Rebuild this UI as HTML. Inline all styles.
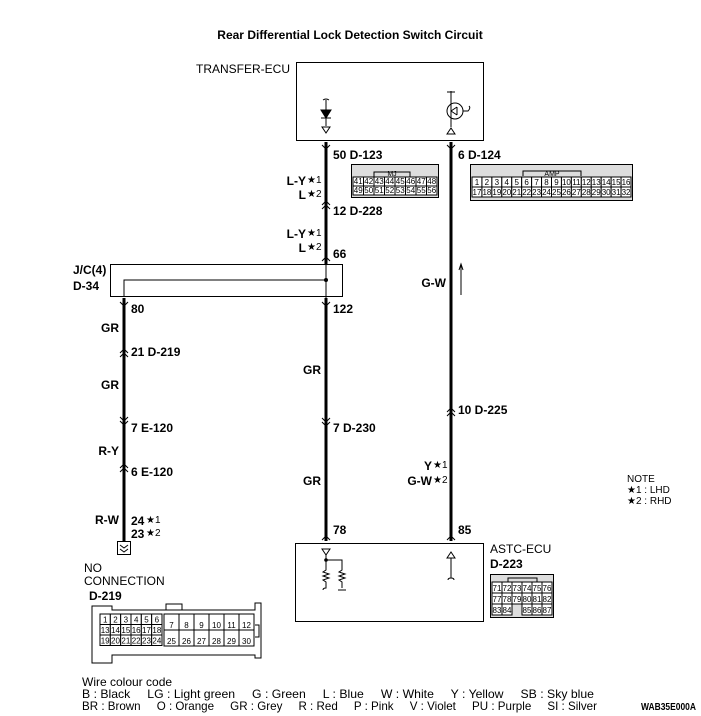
<!DOCTYPE html>
<html><head><meta charset="utf-8"><style>
html,body{margin:0;padding:0;background:#fff;}
svg{display:block;font-family:"Liberation Sans",sans-serif;}
.l{font-size:12px;font-weight:bold;}
.s{font-size:10px;font-weight:normal;}
</style></head><body>
<svg id="s" width="701" height="716" viewBox="0 0 701 716" xmlns="http://www.w3.org/2000/svg">
<text x="350" y="39" text-anchor="middle" font-size="12" font-weight="bold">Rear Differential Lock Detection Switch Circuit</text>
<!-- TRANSFER ECU -->
<text x="290" y="73" text-anchor="end" font-size="12">TRANSFER-ECU</text>
<rect x="296.5" y="62.5" width="187" height="78" fill="none" stroke="#000"/>
<path d="M323 100 q3 -2 6 0 M326 100 v10 M326 118 v8" stroke="#000" fill="none"/>
<path d="M321 110 h10 l-5 8z M321 118 h10" stroke="#000" fill="#000"/>
<path d="M322 127 h8 l-4 6z" stroke="#000" fill="none"/>
<circle cx="455" cy="111" r="8" fill="none" stroke="#000"/>
<path d="M451 91 v36 M451 111 l6 -4 M451 111 l6 4 M457 107 v8 M463 111 h5 q3 -3 1 -5" stroke="#000" fill="none"/>
<path d="M447 92 h8 M447 134 l4 -6 l4 6z" stroke="#000" fill="none"/>
<!-- wires -->
<g stroke="#000" stroke-width="3">
<line x1="326" y1="142" x2="326" y2="264"/>
<line x1="326" y1="298" x2="326" y2="541"/>
<line x1="451" y1="142" x2="451" y2="541"/>
<line x1="124" y1="298" x2="124" y2="541"/>
</g>
<g stroke="#000" fill="none" stroke-width="1">
<path d="M322 145 l4 4 l4 -4 M447 145 l4 4 l4 -4"/>
<path d="M322 205 l4 -4 l4 4 M322 209 l4 -4 l4 4"/>
<path d="M322 261 l4 -4 l4 4"/>
<path d="M322 302 l4 4 l4 -4 M120 302 l4 4 l4 -4"/>
<path d="M120 353 l4 -4 l4 4 M120 357 l4 -4 l4 4"/>
<path d="M120 417 l4 4 l4 -4 M120 421 l4 4 l4 -4"/>
<path d="M120 468 l4 -4 l4 4 M120 472 l4 -4 l4 4"/>
<path d="M322 418 l4 4 l4 -4 M322 422 l4 4 l4 -4"/>
<path d="M447 412 l4 -4 l4 4 M447 416 l4 -4 l4 4"/>
<path d="M322 540 l4 -4 l4 4 M447 540 l4 -4 l4 4"/>
<path d="M461 295 v-30 M459 270 l2 -6 l2 6"/>
<!-- J/C -->
<rect x="110.5" y="264.5" width="232" height="32"/>
<path d="M124 296 v-16 h202 M326 264 v34"/>
</g>
<circle cx="326" cy="280" r="2" fill="#000"/>
<rect x="117.5" y="541.5" width="13" height="13" fill="none" stroke="#000"/>
<path d="M120 545 l4 3 l4 -3 M120 549 l4 3 l4 -3" stroke="#000" fill="none"/>
<!-- labels -->
<g class="l">
<text x="333" y="159">50 D-123</text>
<text x="458" y="159">6 D-124</text>
<text x="306" y="185" text-anchor="end">L-Y</text><text x="307" y="183" class="s">★1</text>
<text x="306" y="199" text-anchor="end">L</text><text x="307" y="197" class="s">★2</text>
<text x="333" y="215">12 D-228</text>
<text x="306" y="238" text-anchor="end">L-Y</text><text x="307" y="236" class="s">★1</text>
<text x="306" y="252" text-anchor="end">L</text><text x="307" y="250" class="s">★2</text>
<text x="333" y="258">66</text>
<text x="73" y="274">J/C(4)</text>
<text x="73" y="290">D-34</text>
<text x="131" y="313">80</text>
<text x="333" y="313">122</text>
<text x="119" y="332" text-anchor="end">GR</text>
<text x="131" y="356">21 D-219</text>
<text x="119" y="389" text-anchor="end">GR</text>
<text x="321" y="374" text-anchor="end">GR</text>
<text x="446" y="287" text-anchor="end">G-W</text>
<text x="131" y="432">7 E-120</text>
<text x="333" y="432">7 D-230</text>
<text x="458" y="414">10 D-225</text>
<text x="119" y="455" text-anchor="end">R-Y</text>
<text x="131" y="476">6 E-120</text>
<text x="321" y="485" text-anchor="end">GR</text>
<text x="432" y="470" text-anchor="end">Y</text><text x="433" y="468" class="s">★1</text>
<text x="432" y="485" text-anchor="end">G-W</text><text x="433" y="483" class="s">★2</text>
<text x="119" y="524" text-anchor="end">R-W</text>
<text x="131" y="525">24</text><text x="146" y="523" class="s">★1</text>
<text x="131" y="538">23</text><text x="146" y="536" class="s">★2</text>
<text x="333" y="534">78</text>
<text x="458" y="534">85</text>
<text x="490" y="568">D-223</text>
<text x="89" y="600">D-219</text>
</g>
<text x="627" y="482" font-size="10">NOTE</text>
<text x="627" y="493" font-size="10">★1 : LHD</text>
<text x="627" y="504" font-size="10">★2 : RHD</text>
<text x="490" y="553" font-size="12">ASTC-ECU</text>
<text x="84" y="572" font-size="12">NO</text>
<text x="84" y="585" font-size="12">CONNECTION</text>
<!-- ASTC -->
<rect x="295.5" y="543.5" width="188" height="78" fill="none" stroke="#000"/>
<path d="M322 549 h8 l-4 6z M447 558 l4 -6 l4 6z" stroke="#000" fill="none"/>
<path d="M326 555 v5 h16 v10 l-3 2 l6 2 l-6 2 l6 2 l-6 2 l3 2 v6 M338 590 h8 M326 560 v10 l-3 2 l6 2 l-6 2 l6 2 l-6 2 l3 2 v6 q-3 0 -3 2 M451 558 v20 q-3 0 -3 2 m3 -2 q3 0 3 2" stroke="#000" fill="none"/>
<circle cx="326" cy="560" r="1.8" fill="#000"/>
<g id="conns" stroke="#000" fill="none" font-size="8"></g>
<text x="82" y="686" font-size="12">Wire colour code</text>
<text x="82" y="698" font-size="12" textLength="512" lengthAdjust="spacingAndGlyphs" xml:space="preserve">B : Black     LG : Light green     G : Green     L : Blue     W : White     Y : Yellow     SB : Sky blue</text>
<text x="82" y="710" font-size="12" textLength="515" lengthAdjust="spacingAndGlyphs" xml:space="preserve">BR : Brown     O : Orange     GR : Grey     R : Red     P : Pink     V : Violet     PU : Purple     SI : Silver</text>
<text x="641" y="710" font-size="10" font-weight="bold" textLength="55" lengthAdjust="spacingAndGlyphs">WAB35E000A</text>
</svg>
<script>
var g=document.getElementById('conns'),NS='http://www.w3.org/2000/svg';
function el(t,a,txt){var e=document.createElementNS(NS,t);for(var k in a)e.setAttribute(k,a[k]);if(txt!=null)e.textContent=txt;g.appendChild(e);return e;}
function grid(x,y,w,h,rows){
 rows.forEach(function(r,i){var cw=w/r.length;r.forEach(function(t,j){if(t===null)return;
  el('rect',{x:x+j*cw,y:y+i*h,width:cw,height:h,fill:'#fff'});
  el('text',{x:x+j*cw+cw/2,y:y+i*h+h-2,'text-anchor':'middle',stroke:'none',fill:'#000'},t);});});}
function rng(a,b){var r=[];for(var i=a;i<=b;i++)r.push(String(i));return r;}
el('rect',{x:351.5,y:164.5,width:87,height:33,fill:'#ddd'});
el('path',{d:'M374 177 v-5 h36 v5'});el('text',{x:392,y:176,'text-anchor':'middle',stroke:'none',fill:'#000','font-size':7},'MJ');
grid(353,177,84,9,[rng(41,48),rng(49,56)]);
el('rect',{x:470.5,y:164.5,width:162,height:36,fill:'#ddd'});
el('path',{d:'M523 176 v-5 h58 v5'});el('text',{x:552,y:176,'text-anchor':'middle',stroke:'none',fill:'#000','font-size':7},'AMP');
grid(472,177,159,10,[rng(1,16),rng(17,32)]);
el('rect',{x:490.5,y:574.5,width:63,height:43,fill:'#ddd'});
el('path',{d:'M508 582 v-4 h29 v4'});
grid(492,582,60,11,[rng(71,76),rng(77,82),['83','84',null,'85','86','87']]);
el('path',{d:'M92 606 h20 v4 h143 v-7 h6 v55 h-6 v-3 h-143 v8 h-20z M166 610 v-6 h16 v6 M255 625 h4 v12 h-4'});
grid(100,614,62,10.5,[rng(1,6),rng(13,18),rng(19,24)]);
grid(164,614,90,16,[rng(7,12),rng(25,30)]);
</script>
</body></html>
